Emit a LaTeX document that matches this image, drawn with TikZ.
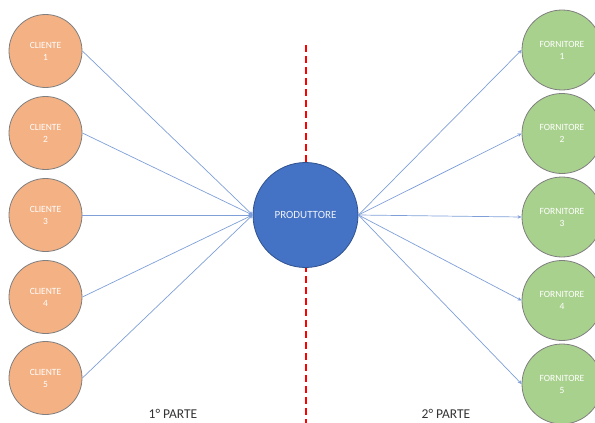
\documentclass[tikz,border=0pt]{standalone}
\usepackage{fontspec}
\setmainfont{Carlito}
\usetikzlibrary{arrows.meta}
\definecolor{cliorange}{HTML}{F4B183}
\definecolor{forgreen}{HTML}{A9D18E}
\definecolor{prodblue}{HTML}{4472C4}
\definecolor{prodedge}{HTML}{2F528F}
\definecolor{linkblue}{HTML}{7F9FD9}
\definecolor{tipblue}{HTML}{4472C4}
\definecolor{edgegray}{HTML}{7F7F7F}
\definecolor{dashred}{HTML}{FF0000}
\tikzset{
  cliente/.style={circle, draw=edgegray, line width=0.8pt, fill=cliorange, minimum size=73pt, inner sep=0pt, text=white, font=\fontsize{9.5}{12}\selectfont, align=center},
  fornitore/.style={circle, draw=edgegray, line width=0.8pt, fill=forgreen, minimum size=80pt, inner sep=0pt, text=white, font=\fontsize{9.5}{12}\selectfont, align=center},
  produttore/.style={circle, draw=prodedge, line width=0.8pt, fill=prodblue, minimum size=105pt, inner sep=0pt, text=white!90!prodblue, font=\fontsize{11}{13}\selectfont},
  link/.style={draw=linkblue, line width=0.7pt, -{Stealth[length=4pt,width=3.5pt,fill=tipblue]}},
  parte/.style={text=black!80, font=\fontsize{13.5}{15}\selectfont},
  dashbit/.style={fill=dashred, draw=none},
}
\begin{document}
\begin{tikzpicture}[x=1pt,y=-1pt]
\useasboundingbox (0,0) rectangle (595,423);
\foreach \k in {0,...,34}{
  \fill[dashbit] (304.5,45+\k*11) rectangle (306.5,52+\k*11);
}
\node[produttore] (P) at (305.5,215) {PRODUTTORE};
\foreach \i/\y in {1/51,2/133,3/215,4/297,5/378}{
  \node[cliente] (C\i) at (45.5,\y) {CLIENTE\\\i};
}
\foreach \i/\y in {1/50,2/133.5,3/217,4/300.5,5/384}{
  \node[fornitore] (F\i) at (562,\y) {FORNITORE\\\i};
}
\foreach \i in {1,...,5}{
  \draw[link] (C\i.east) -- (P.west);
  \draw[link] (P.east) -- (F\i.west);
}
\node[parte] (L1) at (173,414) {1° PARTE};
\node[parte] (L2) at (446,414) {2° PARTE};
\end{tikzpicture}
\end{document}
